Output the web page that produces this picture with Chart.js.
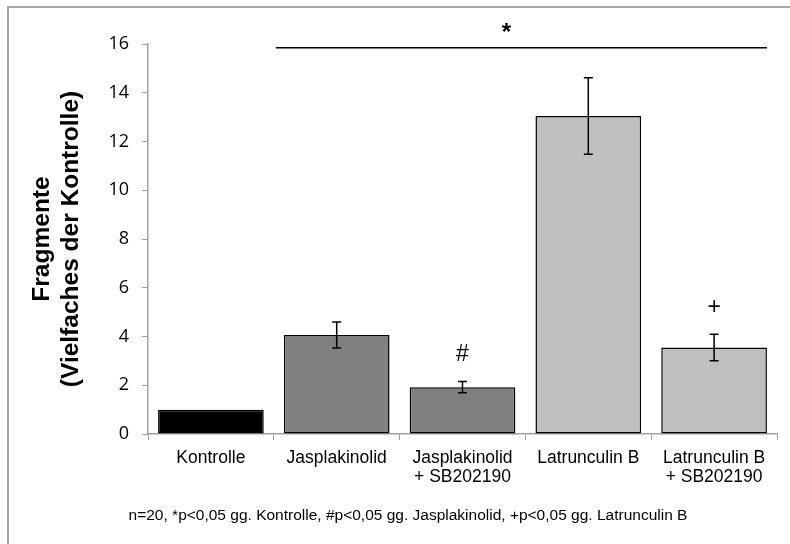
<!DOCTYPE html>
<html>
<head>
<meta charset="utf-8">
<script src="https://cdn.jsdelivr.net/npm/chart.js@4.4.1/dist/chart.umd.min.js"></script>
<style>
  html, body { margin: 0; padding: 0; background: #fff; }
  #wrap { width: 790px; height: 544px; }
</style>
</head>
<body>
<div id="wrap"><canvas id="bar-chart" width="790" height="544"></canvas></div>
<script>
// data
var labels = ['Kontrolle', 'Jasplakinolid', ['Jasplakinolid', '+ SB202190'], 'Latrunculin B', ['Latrunculin B', '+ SB202190']];
var werte = [1.0, 4.06, 1.92, 13.05, 3.55];
var fehler = [0, 0.53, 0.23, 1.57, 0.54];
var farben = ['#000000', '#808080', '#808080', '#c0c0c0', '#c0c0c0'];
var zeichen = ['', '', '#', '', '+'];
var yTicks = [0, 2, 4, 6, 8, 10, 12, 14, 16];
// significance bar: from category 1 to category 4, star label
var sigVon = 1, sigBis = 4, sigWert = 15.85, sternWert = 16.6, sternPos = 2.35;
var fussnote = 'n=20, *p<0,05 gg. Kontrolle, #p<0,05 gg. Jasplakinolid, +p<0,05 gg. Latrunculin B';

var achse = '#a0a0a0';

var extras = {
  id: 'extras',
  beforeDraw: function(chart) {
    var ctx = chart.ctx;
    ctx.save();
    ctx.strokeStyle = '#a6a6a6';
    ctx.lineWidth = 2;
    ctx.beginPath();
    ctx.moveTo(8, chart.height);
    ctx.lineTo(8, 7);
    ctx.lineTo(chart.width, 7);
    ctx.stroke();
    ctx.restore();
  },
  afterDatasetsDraw: function(chart) {
    var ctx = chart.ctx;
    var x = chart.scales.x, y = chart.scales.y;
    var meta = chart.getDatasetMeta(0);
    var breite = x.getPixelForValue(1) - x.getPixelForValue(0);
    ctx.save();
    // error bars
    ctx.strokeStyle = '#000';
    ctx.lineWidth = 1.5;
    fehler.forEach(function(e, i) {
      if (!e) return;
      var bx = meta.data[i].x;
      var o = y.getPixelForValue(werte[i] + e);
      var u = y.getPixelForValue(werte[i] - e);
      ctx.beginPath();
      ctx.moveTo(bx, o); ctx.lineTo(bx, u);
      ctx.moveTo(bx - 4.5, o); ctx.lineTo(bx + 4.5, o);
      ctx.moveTo(bx - 4.5, u); ctx.lineTo(bx + 4.5, u);
      ctx.stroke();
    });
    // markers above bars
    ctx.fillStyle = '#000';
    ctx.textAlign = 'center';
    ctx.textBaseline = 'middle';
    ctx.font = '23px "Liberation Sans", Arial, sans-serif';
    zeichen.forEach(function(z, i) {
      if (!z) return;
      var bx = meta.data[i].x;
      ctx.fillText(z, bx, y.getPixelForValue(werte[i] + fehler[i]) - 27);
    });
    // significance line and star
    var x1 = x.getPixelForValue(sigVon) - breite / 2 + 2;
    var x2 = x.getPixelForValue(sigBis) + breite / 2 - 10;
    var ly = y.getPixelForValue(sigWert);
    ctx.lineWidth = 1.5;
    ctx.beginPath();
    ctx.moveTo(x1, ly); ctx.lineTo(x2, ly);
    ctx.stroke();
    ctx.font = 'bold 24px "Liberation Sans", Arial, sans-serif';
    var sx = x.getPixelForValue(Math.floor(sternPos)) + (sternPos - Math.floor(sternPos)) * breite;
    ctx.fillText('*', sx, y.getPixelForValue(sternWert) + 4);
    // footnote
    ctx.font = '15.5px "Liberation Sans", Arial, sans-serif';
    ctx.fillText(fussnote, 408, chart.height - 28);
    ctx.restore();
  }
};

var ctx = document.getElementById('bar-chart');
var chart = new Chart(ctx, {
  type: 'bar',
  data: {
    labels: labels,
    datasets: [{
      data: werte,
      backgroundColor: farben,
      borderColor: '#000',
      borderWidth: 1.5,
      borderSkipped: false,
      categoryPercentage: 1.0,
      barPercentage: 0.84
    }]
  },
  options: {
    responsive: false,
    animation: false,
    layout: { padding: { left: 28, right: 13, top: 44, bottom: 0 } },
    plugins: { legend: { display: false }, tooltip: { enabled: false } },
    scales: {
      x: {
        offset: true,
        grid: { display: true, offset: true, drawOnChartArea: false, drawTicks: true, tickLength: 6, color: achse },
        border: { display: true, color: achse, width: 1.5 },
        ticks: {
          color: '#000',
          padding: 8,
          maxRotation: 0,
          autoSkip: false,
          font: { family: '"Liberation Sans", Arial, sans-serif', size: 17.5, lineHeight: 1.12 }
        },
        afterFit: function(s) { s.height = 110; }
      },
      y: {
        min: 0,
        max: 16,
        afterBuildTicks: function(s) { s.ticks = yTicks.map(function(v) { return { value: v }; }); },
        grid: { display: true, drawOnChartArea: false, drawTicks: true, tickLength: 6, color: achse },
        border: { display: true, color: achse, width: 1.5 },
        ticks: {
          color: '#000',
          padding: 13,
          font: { family: '"Open Sans", "Noto Sans", sans-serif', size: 18 }
        },
        title: {
          display: true,
          text: ['Fragmente', '(Vielfaches der Kontrolle)'],
          color: '#000',
          padding: { top: 0, bottom: 0 },
          font: { family: '"Liberation Sans", Arial, sans-serif', size: 24.5, weight: 'bold', lineHeight: 1.18 }
        },
        afterFit: function(s) { s.width = 120; }
      }
    }
  },
  plugins: [extras]
});
</script>
</body>
</html>
